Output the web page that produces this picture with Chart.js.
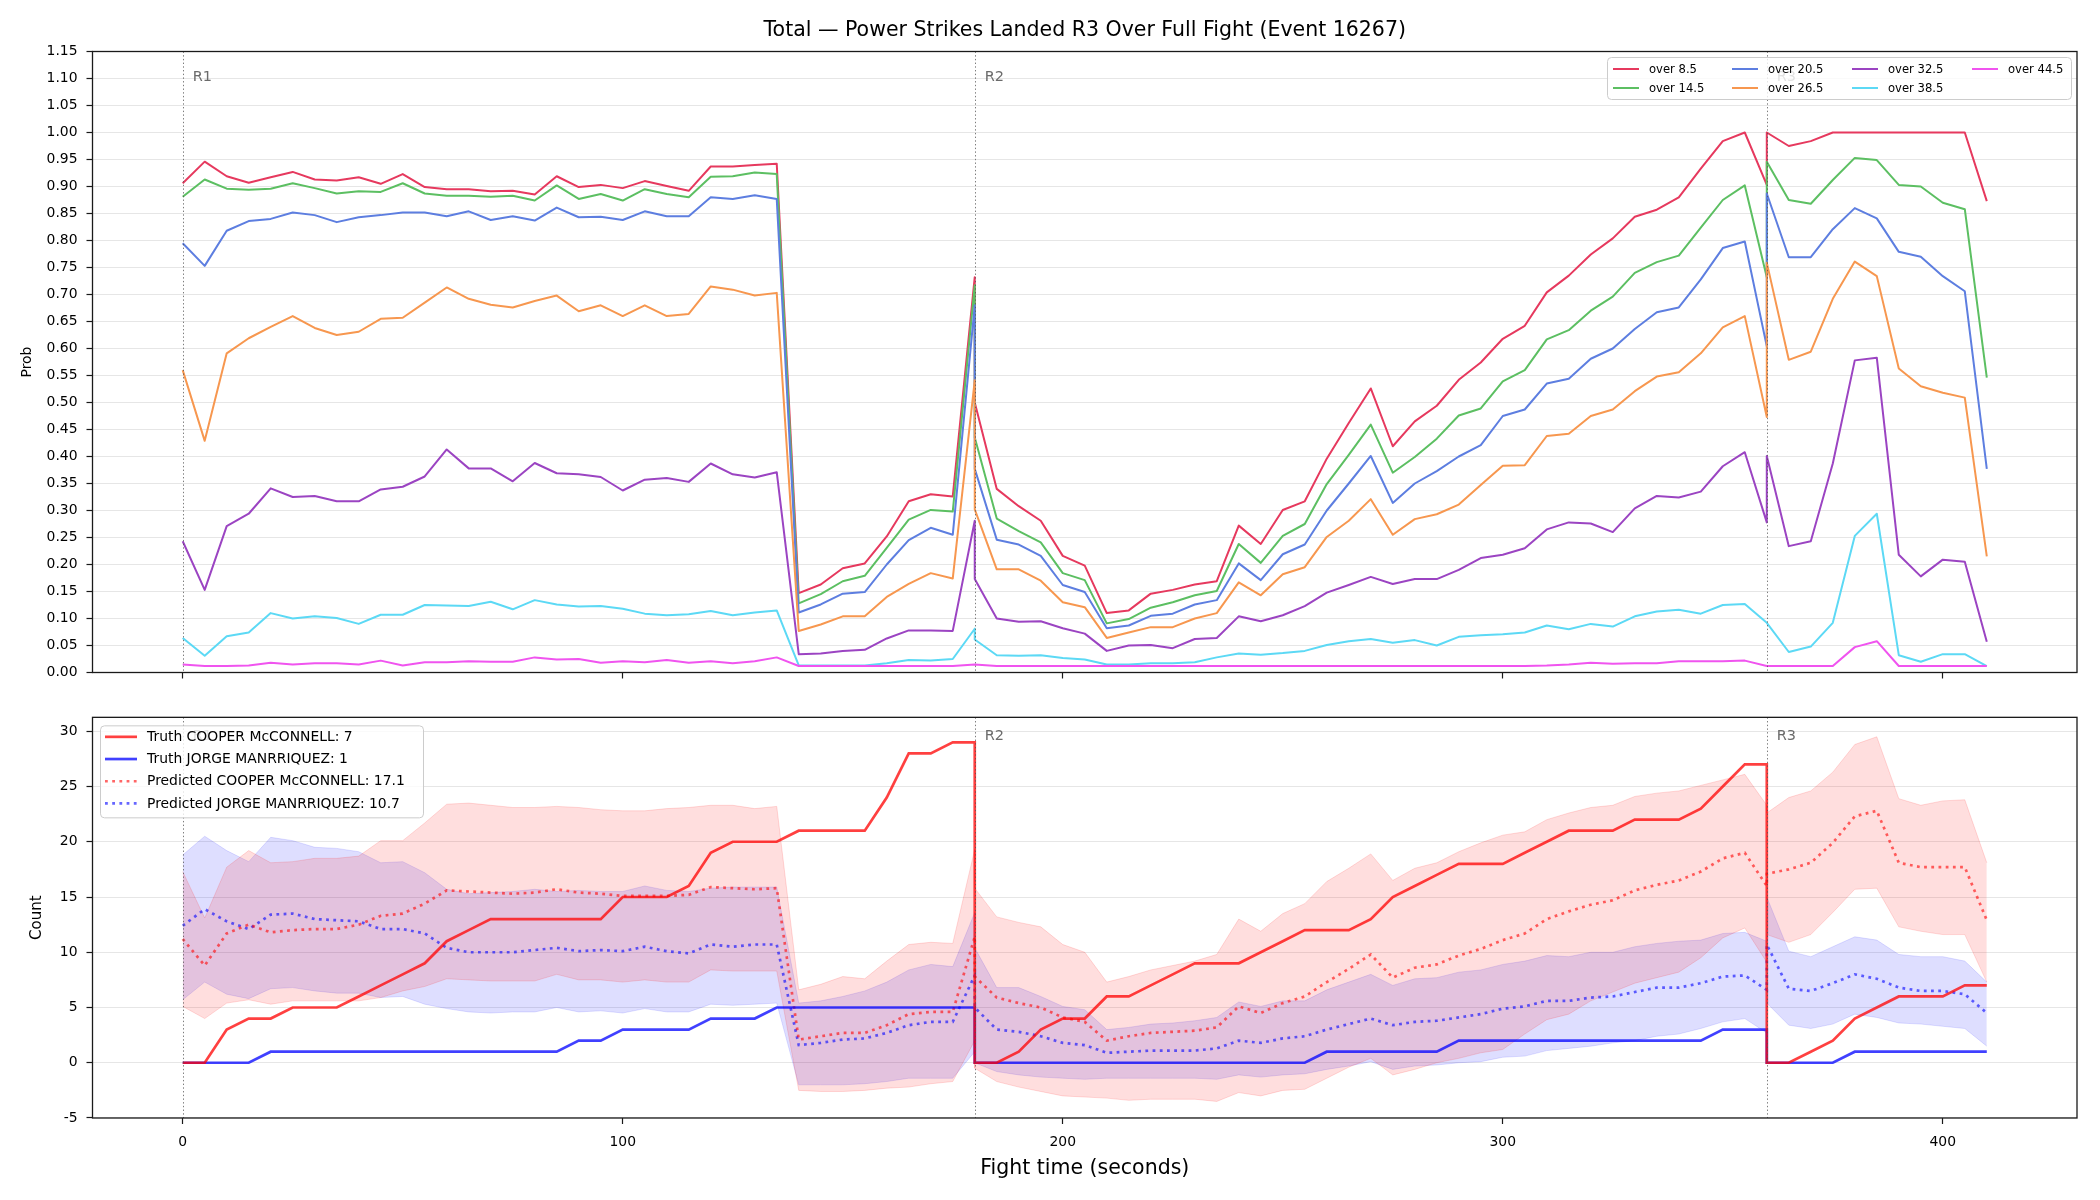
<!DOCTYPE html>
<html>
<head>
<meta charset="utf-8">
<title>Total — Power Strikes Landed R3 Over Full Fight (Event 16267)</title>
<script src="https://cdn.jsdelivr.net/npm/chart.js@4.4.1/dist/chart.umd.min.js"></script>
<style>
  html, body { margin: 0; padding: 0; background: #fff; }
  #figure { position: relative; width: 2100px; height: 1200px; overflow: hidden; }
  #figure canvas { position: absolute; left: 0; }
  #probChart { top: 0; }
  #countChart { top: 700px; }
</style>
</head>
<body>
<div id="figure">
  <canvas id="probChart" width="2100" height="700"></canvas>
  <canvas id="countChart" width="2100" height="500"></canvas>
</div>
<script>
// Sample times (s). Round boundaries appear twice: end of one round, start of the next.
const times = [
  0,5,10,15,20,25,30,35,40,45,50,55,60,65,70,75,80,85,90,95,100,105,110,115,120,125,130,135,140,145,150,155,160,165,170,175,180,
  180,185,190,195,200,205,210,215,220,225,230,235,240,245,250,255,260,265,270,275,280,285,290,295,300,305,310,315,320,325,330,335,340,345,350,355,360,
  360,365,370,375,380,385,390,395,400,405,410
];

const roundStarts = [0, 180, 360];
const roundNames = ['R1', 'R2', 'R3'];

// Tick labels
const timeTicks = [0, 100, 200, 300, 400];
const probTicks = [0, 0.05, 0.1, 0.15, 0.2, 0.25, 0.3, 0.35, 0.4, 0.45, 0.5, 0.55, 0.6, 0.65, 0.7, 0.75, 0.8, 0.85, 0.9, 0.95, 1, 1.05, 1.1, 1.15];
const countTicks = [-5, 0, 5, 10, 15, 20, 25, 30];

// Top panel: P(total > line)
const thresholdLabels = ['over 8.5', 'over 14.5', 'over 20.5', 'over 26.5', 'over 32.5', 'over 38.5', 'over 44.5'];
const thresholdColors = ['#e6395e', '#5cbf62', '#5d7ee0', '#f7974f', '#9b44c2', '#5cd9f5', '#f054ef'];

const over85 = [
  0.906,0.946,0.919,0.907,0.917,0.927,0.913,0.911,0.917,0.905,0.923,0.899,0.895,0.895,0.891,0.892,0.885,0.919,0.899,0.903,0.897,
  0.910,0.901,0.892,0.937,0.937,0.940,0.942,0.147,0.163,0.193,0.202,0.252,0.317,0.330,0.326,0.732,
  0.500,0.340,0.308,0.281,0.216,0.198,0.110,0.115,0.146,0.153,0.163,0.169,0.272,0.238,0.301,0.317,0.396,0.462,0.526,0.419,0.465,
  0.494,0.542,0.574,0.618,0.642,0.704,0.735,0.774,0.804,0.844,0.857,0.880,0.933,0.984,1.000,0.903,
  1.000,0.975,0.984,1.000,1.000,1.000,1.000,1.000,1.000,1.000,0.873
];
const over145 = [
  0.881,0.913,0.896,0.894,0.896,0.906,0.897,0.887,0.891,0.890,0.906,0.887,0.883,0.883,0.881,0.883,0.874,0.902,0.877,0.886,0.874,
  0.895,0.886,0.880,0.918,0.919,0.926,0.923,0.128,0.145,0.169,0.179,0.231,0.283,0.301,0.298,0.717,
  0.435,0.285,0.262,0.241,0.184,0.171,0.091,0.099,0.120,0.130,0.143,0.151,0.238,0.203,0.253,0.275,0.349,0.403,0.459,0.370,0.399,
  0.433,0.476,0.489,0.539,0.560,0.617,0.634,0.670,0.696,0.740,0.760,0.772,0.824,0.875,0.902,0.732,
  0.946,0.875,0.868,0.912,0.953,0.949,0.903,0.900,0.870,0.858,0.546
];
const over205 = [
  0.795,0.753,0.818,0.836,0.840,0.852,0.847,0.834,0.843,0.847,0.852,0.852,0.845,0.854,0.838,0.845,0.837,0.861,0.843,0.844,0.838,
  0.854,0.845,0.845,0.880,0.877,0.884,0.877,0.111,0.126,0.146,0.149,0.200,0.245,0.268,0.255,0.680,
  0.377,0.246,0.237,0.216,0.162,0.149,0.082,0.087,0.105,0.109,0.126,0.134,0.202,0.171,0.219,0.237,0.300,0.350,0.401,0.314,0.350,
  0.373,0.400,0.421,0.475,0.487,0.535,0.544,0.581,0.600,0.636,0.667,0.676,0.728,0.786,0.798,0.604,
  0.887,0.769,0.769,0.821,0.860,0.841,0.779,0.770,0.734,0.706,0.377
];
const over265 = [
  0.560,0.429,0.591,0.619,0.640,0.660,0.638,0.625,0.631,0.655,0.657,0.685,0.713,0.692,0.681,0.676,0.688,0.698,0.669,0.680,0.660,
  0.680,0.660,0.664,0.715,0.709,0.698,0.703,0.077,0.089,0.104,0.104,0.140,0.164,0.184,0.174,0.541,
  0.302,0.191,0.191,0.170,0.130,0.121,0.064,0.074,0.084,0.084,0.100,0.110,0.167,0.143,0.182,0.195,0.251,0.281,0.321,0.255,0.284,
  0.293,0.311,0.347,0.383,0.384,0.438,0.442,0.475,0.487,0.521,0.548,0.556,0.591,0.639,0.660,0.473,
  0.759,0.579,0.594,0.692,0.761,0.734,0.563,0.530,0.518,0.509,0.215
];
const over325 = [
  0.243,0.153,0.271,0.294,0.341,0.325,0.327,0.317,0.317,0.339,0.344,0.363,0.413,0.378,0.378,0.354,0.388,0.369,0.367,0.362,0.337,
  0.357,0.360,0.353,0.387,0.367,0.361,0.371,0.034,0.035,0.040,0.042,0.063,0.078,0.078,0.077,0.281,
  0.173,0.100,0.094,0.095,0.082,0.072,0.040,0.050,0.051,0.045,0.062,0.064,0.104,0.095,0.106,0.123,0.148,0.162,0.177,0.164,0.173,
  0.173,0.190,0.212,0.218,0.230,0.265,0.278,0.276,0.260,0.304,0.327,0.324,0.335,0.382,0.408,0.278,
  0.401,0.234,0.243,0.387,0.578,0.583,0.218,0.178,0.209,0.205,0.057
];
const over385 = [
  0.064,0.031,0.067,0.074,0.110,0.100,0.104,0.101,0.090,0.107,0.107,0.125,0.124,0.123,0.131,0.117,0.134,0.126,0.122,0.123,0.118,
  0.109,0.106,0.108,0.114,0.106,0.111,0.115,0.013,0.013,0.013,0.013,0.017,0.023,0.022,0.025,0.081,
  0.061,0.032,0.031,0.032,0.027,0.024,0.015,0.015,0.017,0.017,0.019,0.028,0.035,0.033,0.036,0.040,0.051,0.058,0.062,0.055,0.060,
  0.050,0.066,0.069,0.071,0.074,0.087,0.080,0.090,0.085,0.104,0.113,0.116,0.109,0.125,0.127,0.092,
  0.092,0.038,0.048,0.092,0.253,0.294,0.032,0.020,0.034,0.034,0.012
];
const over445 = [
  0.015,0.012,0.012,0.013,0.018,0.015,0.017,0.017,0.015,0.022,0.013,0.019,0.019,0.021,0.020,0.020,0.028,0.024,0.025,0.018,0.021,
  0.019,0.023,0.018,0.021,0.017,0.021,0.028,0.012,0.012,0.012,0.012,0.012,0.012,0.012,0.012,0.015,
  0.015,0.012,0.012,0.012,0.012,0.012,0.012,0.012,0.012,0.012,0.012,0.012,0.012,0.012,0.012,0.012,0.012,0.012,0.012,0.012,0.012,
  0.012,0.012,0.012,0.012,0.012,0.013,0.015,0.018,0.016,0.017,0.017,0.021,0.021,0.021,0.022,0.012,
  0.012,0.012,0.012,0.012,0.047,0.058,0.012,0.012,0.012,0.012,0.012
];
const thresholdSeries = [over85, over145, over205, over265, over325, over385, over445];

// Bottom panel: cumulative counts
const truthCooper = [
  0,0,3,4,4,5,5,5,6,7,8,9,11,12,13,13,13,13,13,13,15,15,15,16,19,20,20,20,21,21,21,21,24,28,28,29,29,
  0,0,1,3,4,4,6,6,7,8,9,9,9,10,11,12,12,12,13,15,16,17,18,18,18,19,20,21,21,21,22,22,22,23,25,27,27,
  0,0,1,2,4,5,6,6,6,7,7
];
const truthJorge = [
  0,0,0,0,1,1,1,1,1,1,1,1,1,1,1,1,1,1,2,2,3,3,3,3,4,4,4,5,5,5,5,5,5,5,5,5,5,
  0,0,0,0,0,0,0,0,0,0,0,0,0,0,0,0,1,1,1,1,1,1,2,2,2,2,2,2,2,2,2,2,2,2,3,3,3,
  0,0,0,0,1,1,1,1,1,1,1
];
const predCooper = [
  11.2,8.8,11.7,12.5,11.8,12.0,12.1,12.1,12.5,13.3,13.5,14.4,15.6,15.5,15.4,15.3,15.4,15.7,15.4,15.3,15.1,
  15.1,15.1,15.2,15.9,15.8,15.7,15.8,2.1,2.4,2.7,2.7,3.4,4.4,4.6,4.6,11.4,
  7.8,5.9,5.4,5.0,4.1,3.7,2.0,2.4,2.7,2.8,2.9,3.2,5.1,4.5,5.4,6.0,7.3,8.5,9.8,7.7,8.6,
  8.9,9.7,10.3,11.1,11.7,13.0,13.7,14.3,14.7,15.6,16.1,16.5,17.3,18.5,19.0,16.0,
  17.1,17.5,18.1,19.9,22.3,22.8,18.1,17.7,17.7,17.7,12.9
];
const predJorge = [
  12.4,13.9,12.8,12.1,13.4,13.5,13.0,12.9,12.8,12.1,12.1,11.7,10.4,10.0,10.0,10.0,10.2,10.4,10.1,10.2,10.1,
  10.5,10.1,9.9,10.7,10.5,10.7,10.7,1.6,1.8,2.1,2.2,2.7,3.4,3.7,3.7,7.9,
  5.0,3.0,2.8,2.4,1.8,1.6,0.9,1.0,1.1,1.1,1.1,1.3,2.0,1.8,2.2,2.4,3.0,3.5,4.0,3.4,3.7,
  3.8,4.1,4.4,4.9,5.1,5.6,5.6,5.9,6.0,6.4,6.8,6.8,7.2,7.8,7.9,6.6,
  10.7,6.7,6.5,7.2,8.0,7.6,6.8,6.5,6.5,6.2,4.5
];
const cooperHigh = [
  17.3,13.1,17.7,19.2,18.1,18.2,18.5,18.5,18.7,20.1,20.1,21.7,23.4,23.5,23.3,23.1,23.1,23.2,23.1,22.9,22.8,
  22.8,23.0,23.1,23.3,23.3,23.0,23.2,6.6,7.1,7.8,7.6,9.2,10.7,10.9,10.8,19.3,
  15.8,13.2,12.7,12.3,10.7,10.0,7.3,7.8,8.4,8.8,9.2,9.8,13.0,11.9,13.5,14.4,16.4,17.6,18.9,16.5,17.6,
  18.1,19.1,19.9,20.6,20.9,22.0,22.6,23.1,23.3,24.1,24.4,24.6,25.1,25.6,26.1,23.3,
  22.6,24.0,24.6,26.3,28.8,29.5,23.9,23.3,23.7,23.8,18.1
];
const cooperLow = [
  5.1,4.0,5.4,5.7,5.3,5.6,5.6,5.6,5.6,5.9,6.5,6.9,7.6,7.5,7.4,7.4,7.4,8.0,7.5,7.5,7.3,
  7.5,7.3,7.3,8.4,8.3,8.3,8.3,-2.5,-2.6,-2.6,-2.5,-2.3,-2.2,-1.9,-1.7,2.0,
  -0.5,-1.7,-2.2,-2.6,-3.0,-3.1,-3.2,-3.4,-3.3,-3.3,-3.3,-3.5,-2.7,-3.0,-2.5,-2.4,-1.4,-0.4,0.4,-1.1,-0.6,
  0.0,0.4,0.9,1.2,2.6,3.9,4.4,5.6,6.4,7.2,7.7,8.2,9.5,11.3,12.2,9.1,
  11.6,10.9,11.6,13.6,15.7,15.8,12.3,11.9,11.6,11.6,7.3
];
const jorgeHigh = [
  18.8,20.5,19.2,18.2,20.4,20.1,19.5,19.4,19.1,18.1,18.2,17.2,15.7,15.3,15.4,15.5,15.7,15.5,15.6,15.5,15.5,
  16.0,15.6,15.5,15.8,15.9,15.9,15.9,5.4,5.6,6.0,6.5,7.3,8.4,8.9,8.7,13.6,
  10.4,6.8,6.8,6.0,5.1,4.8,3.0,3.2,3.5,3.6,3.8,4.1,5.5,5.1,5.6,5.6,6.6,7.3,8.0,7.0,7.6,
  7.7,8.2,8.4,8.9,9.2,9.7,9.6,10.0,10.0,10.5,10.8,11.0,11.1,11.7,11.8,11.0,
  15.0,10.1,9.6,10.5,11.4,11.1,9.8,9.6,9.6,9.2,7.3
];
const jorgeLow = [
  5.7,7.3,6.2,5.8,6.7,6.8,6.5,6.3,6.3,5.9,6.0,5.3,4.9,4.6,4.5,4.6,4.6,5.0,4.6,4.7,4.5,
  4.9,4.6,4.6,5.3,5.2,5.3,5.4,-2.0,-2.0,-2.0,-1.9,-1.7,-1.4,-1.4,-1.4,1.0,
  0.0,-0.8,-1.1,-1.3,-1.4,-1.5,-1.4,-1.4,-1.4,-1.4,-1.4,-1.5,-1.1,-1.3,-1.1,-1.0,-0.6,-0.3,0.1,-0.6,-0.3,
  -0.2,0.0,0.1,0.5,0.6,1.1,1.3,1.5,1.8,2.0,2.4,2.6,3.1,3.7,4.0,2.7,
  5.4,3.4,3.1,3.5,4.4,4.1,3.6,3.5,3.3,3.1,1.5
];

const FONT = '"DejaVu Sans", sans-serif';
Chart.defaults.font.family = FONT;
Chart.defaults.color = '#000';

function toPoints(values) {
  return times.map((t, i) => ({ x: t, y: values[i] }));
}
function setTicks(values) {
  return scale => { scale.ticks = values.map(v => ({ value: v })); };
}

// Draws the full axes frame, round markers, figure title and the in-axes legend
function drawLegend(ctx, area, chart, L) {
  const items = chart.data.datasets.filter(d => d.label);
  const bx = L.anchor === 'right' ? area.right - L.inset - L.width : area.left + L.inset;
  const by = area.top + L.top;
  ctx.save();
  ctx.fillStyle = 'rgba(255,255,255,0.8)';
  ctx.strokeStyle = '#cccccc';
  ctx.lineWidth = 1;
  ctx.beginPath();
  ctx.roundRect(bx + 0.5, by + 0.5, L.width, L.height, 4);
  ctx.fill();
  ctx.stroke();
  ctx.font = L.fontSize + 'px ' + FONT;
  ctx.textBaseline = 'middle';
  ctx.fillStyle = '#000';
  items.forEach((d, k) => {
    const col = Math.floor(k / L.rows.length);
    const row = k % L.rows.length;
    const x0 = bx + L.cols[col];
    const y0 = by + L.rows[row];
    ctx.strokeStyle = d.borderColor;
    ctx.lineWidth = d.borderWidth;
    ctx.setLineDash(d.borderDash || []);
    ctx.beginPath();
    ctx.moveTo(x0, y0);
    ctx.lineTo(x0 + L.handle, y0);
    ctx.stroke();
    ctx.setLineDash([]);
    ctx.fillText(d.label, x0 + L.handle + L.gap, y0 + 0.5);
  });
  ctx.restore();
}

const figurePlugin = {
  id: 'figure',
  afterDatasetsDraw(chart) {
    const { ctx, chartArea: area, scales } = chart;
    const x = scales.x;
    ctx.save();
    ctx.strokeStyle = 'rgba(80,80,80,0.75)';
    ctx.lineWidth = 1;
    ctx.setLineDash([1.4, 2.3]);
    roundStarts.forEach(t => {
      const px = Math.round(x.getPixelForValue(t)) + 0.5;
      ctx.beginPath();
      ctx.moveTo(px, area.top);
      ctx.lineTo(px, area.bottom);
      ctx.stroke();
    });
    ctx.setLineDash([]);
    ctx.fillStyle = '#6b6b6b';
    ctx.font = '14.5px ' + FONT;
    ctx.textBaseline = 'top';
    const ty = area.top + (area.bottom - area.top) * 0.03;
    roundStarts.forEach((t, i) => ctx.fillText(roundNames[i], x.getPixelForValue(t) + 10, ty));
    ctx.restore();
  },
  afterDraw(chart, args, opts) {
    const { ctx, chartArea: area } = chart;
    ctx.save();
    ctx.strokeStyle = '#1a1a1a';
    ctx.lineWidth = 1.3;
    ctx.strokeRect(area.left, area.top, area.right - area.left, area.bottom - area.top);
    if (opts.title) {
      ctx.fillStyle = '#000';
      ctx.font = opts.title.size + 'px ' + FONT;
      ctx.textAlign = 'center';
      ctx.textBaseline = 'middle';
      ctx.fillText(opts.title.text, (area.left + area.right) / 2, opts.title.y);
    }
    ctx.restore();
    if (opts.legend) drawLegend(ctx, area, chart, opts.legend);
  }
};

const tickFont = { family: FONT, size: 13.9 };

function yAxis(min, max, ticks, label, titlePad, titleSize, fmt) {
  return {
    type: 'linear', min: min, max: max,
    afterBuildTicks: setTicks(ticks),
    afterFit: scale => { scale.width = 92.5; },
    border: { display: false },
    grid: { color: '#e6e6e6', lineWidth: 1, tickColor: '#1a1a1a', tickLength: 6, tickWidth: 1.2 },
    ticks: { font: tickFont, color: '#000', padding: 9, autoSkip: false, callback: fmt },
    title: { display: true, text: label, font: { family: FONT, size: titleSize, lineHeight: 1.2 }, color: '#000', padding: { top: titlePad, bottom: 0 } }
  };
}

function xAxis(showLabels, height) {
  return {
    type: 'linear', min: -20.5, max: 430.5,
    afterBuildTicks: setTicks(timeTicks),
    afterFit: scale => { scale.height = height; },
    border: { display: false },
    grid: { drawOnChartArea: false, drawTicks: true, tickLength: 6, tickColor: '#1a1a1a', tickWidth: 1.2 },
    ticks: { display: showLabels, font: tickFont, color: '#000', padding: 10, maxRotation: 0, autoSkip: false, callback: v => String(v) },
    title: showLabels ? { display: true, text: 'Fight time (seconds)', font: { family: FONT, size: 20.5, lineHeight: 1.2 }, color: '#000', padding: { top: 0, bottom: 18.7 } } : { display: false }
  };
}

const common = {
  responsive: false,
  devicePixelRatio: 1,
  animation: false,
  events: [],
  elements: { point: { radius: 0 }, line: { tension: 0 } }
};

// ---- Top panel
new Chart(document.getElementById('probChart'), {
  type: 'line',
  data: {
    datasets: thresholdSeries.map((s, i) => ({
      label: thresholdLabels[i],
      data: toPoints(s),
      borderColor: thresholdColors[i],
      borderWidth: 2,
      borderJoinStyle: 'round',
      fill: false,
      order: thresholdSeries.length - 1 - i
    }))
  },
  options: Object.assign({}, common, {
    layout: { padding: { top: 51.5, right: 23, left: 0, bottom: 0 } },
    scales: {
      x: xAxis(false, 27.5),
      y: yAxis(0, 1.15, probTicks, 'Prob', 18.7, 13.9, v => v.toFixed(2))
    },
    plugins: {
      legend: { display: false },
      tooltip: { enabled: false },
      figure: {
        title: { text: 'Total — Power Strikes Landed R3 Over Full Fight (Event 16267)', y: 31, size: 20.5 },
        legend: { anchor: 'right', inset: 6, top: 5.5, width: 464, height: 42, fontSize: 11.6,
                  cols: [6, 125, 245, 365], rows: [12, 31], handle: 26, gap: 10 }
      }
    }
  }),
  plugins: [figurePlugin]
});

// ---- Bottom panel
const red = 'rgba(255,0,0,0.75)', blue = 'rgba(0,0,255,0.75)';
const redDot = 'rgba(255,0,0,0.6)', blueDot = 'rgba(0,0,255,0.6)';
const dotDash = [2.8, 4.4];

new Chart(document.getElementById('countChart'), {
  type: 'line',
  data: {
    datasets: [
      { label: 'Truth COOPER McCONNELL: 7', data: toPoints(truthCooper), borderColor: red, borderWidth: 2.7, fill: false },
      { label: 'Truth JORGE MANRRIQUEZ: 1', data: toPoints(truthJorge), borderColor: blue, borderWidth: 2.7, fill: false },
      { label: 'Predicted COOPER McCONNELL: 17.1', data: toPoints(predCooper), borderColor: redDot, borderWidth: 2.7, borderDash: dotDash, borderCapStyle: 'butt', fill: false },
      { label: 'Predicted JORGE MANRRIQUEZ: 10.7', data: toPoints(predJorge), borderColor: blueDot, borderWidth: 2.7, borderDash: dotDash, borderCapStyle: 'butt', fill: false },
      { data: toPoints(cooperHigh), borderColor: 'rgba(255,0,0,0.14)', borderWidth: 1, backgroundColor: 'rgba(255,0,0,0.13)', fill: '+1' },
      { data: toPoints(cooperLow), borderColor: 'rgba(255,0,0,0.14)', borderWidth: 1, fill: false },
      { data: toPoints(jorgeHigh), borderColor: 'rgba(0,0,255,0.12)', borderWidth: 1, backgroundColor: 'rgba(0,0,255,0.13)', fill: '+1' },
      { data: toPoints(jorgeLow), borderColor: 'rgba(0,0,255,0.12)', borderWidth: 1, fill: false }
    ]
  },
  options: Object.assign({}, common, {
    layout: { padding: { top: 4, right: 23, left: 0, bottom: 0 } },
    scales: {
      x: xAxis(true, 82),
      y: yAxis(-5, 31.26, countTicks, 'Count', 28.5, 15, v => String(v))
    },
    plugins: {
      legend: { display: false },
      tooltip: { enabled: false },
      figure: {
        legend: { anchor: 'left', inset: 7.5, top: 8, width: 323, height: 92, fontSize: 13.9,
                  cols: [5], rows: [11.5, 33.7, 55.9, 78.1], handle: 32, gap: 10 }
      }
    }
  }),
  plugins: [figurePlugin]
});
</script>
</body>
</html>
